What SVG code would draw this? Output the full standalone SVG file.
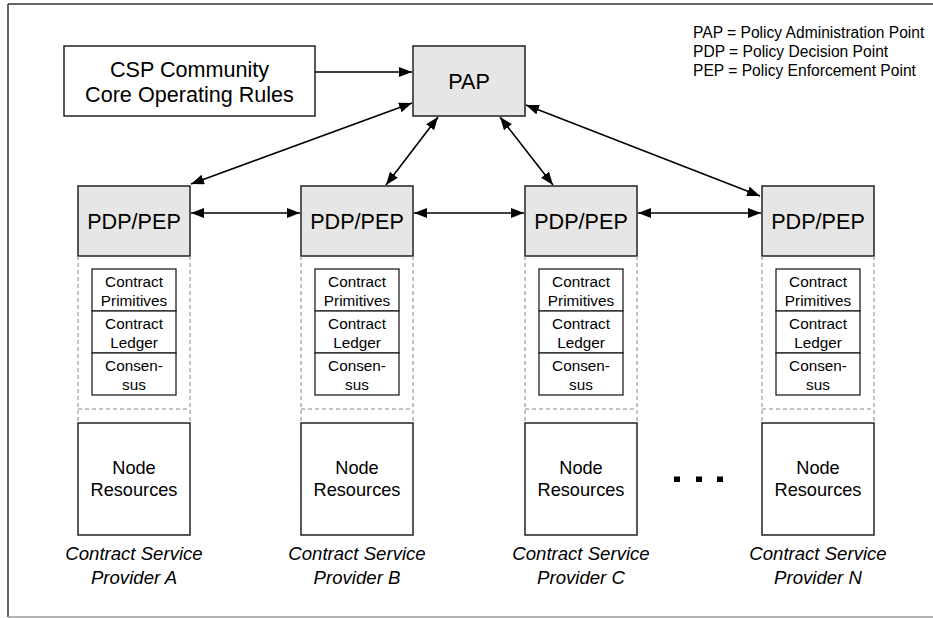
<svg xmlns="http://www.w3.org/2000/svg" width="933" height="618" viewBox="0 0 933 618">
<style>
text{font-family:"Liberation Sans",Arial,Helvetica,sans-serif;fill:#000;text-anchor:middle}
.big{font-size:21.6px}
.sm{font-size:15.3px}
.nr{font-size:18.2px}
.cap{font-size:18.6px;font-style:italic}
.leg{font-size:15.6px;text-anchor:start}
.box{fill:#fff;stroke:#222;stroke-width:1.5}
.gbox{fill:#e6e6e6;stroke:#222;stroke-width:1.5}
.cell{fill:#fff;stroke:#222;stroke-width:1.3}
.dash{fill:none;stroke:#888;stroke-width:1;stroke-dasharray:4 3}
.conn{stroke:#000;stroke-width:1.6;fill:none}
</style>
<defs>
<marker id="ah" markerUnits="userSpaceOnUse" markerWidth="14" markerHeight="11" refX="13" refY="5" orient="auto-start-reverse">
<path d="M0,0 L13,5 L0,10 z" fill="#000"/>
</marker>
<g id="stack">
<rect class="cell" x="0" y="0" width="84" height="42"/>
<rect class="cell" x="0" y="42" width="84" height="42"/>
<rect class="cell" x="0" y="84" width="84" height="42"/>
<text class="sm" x="42" y="18">Contract</text>
<text class="sm" x="42" y="37">Primitives</text>
<text class="sm" x="42" y="60">Contract</text>
<text class="sm" x="42" y="79">Ledger</text>
<text class="sm" x="42" y="102">Consen-</text>
<text class="sm" x="42" y="121">sus</text>
</g>
</defs>
<rect width="933" height="618" fill="#fff"/>
<g id="frame">
<line x1="8" y1="4" x2="933" y2="4" stroke="#333" stroke-width="1.5"/>
<line x1="8" y1="4" x2="8" y2="617" stroke="#333" stroke-width="1.5"/>
<line x1="8" y1="617" x2="933" y2="617" stroke="#999" stroke-width="1.5"/>
</g>
<g id="legend">
<text class="leg" x="693" y="38">PAP = Policy Administration Point</text>
<text class="leg" x="693" y="57">PDP = Policy Decision Point</text>
<text class="leg" x="693" y="76">PEP = Policy Enforcement Point</text>
</g>
<g id="csp">
<rect class="box" x="64" y="46" width="251" height="70"/>
<text class="big" x="189.5" y="76.5">CSP Community</text>
<text class="big" x="189.5" y="101.5">Core Operating Rules</text>
</g>
<g id="pap">
<rect class="gbox" x="413" y="46" width="112" height="70"/>
<text class="big" x="469" y="88.5">PAP</text>
</g>
<g id="csp-a">
<rect class="gbox" x="78" y="186" width="112" height="70"/>
<text class="big" x="134" y="228.5">PDP/PEP</text>
<path class="dash" d="M78,256 V423 M190,256 V423 M78,409 H190"/>
<use href="#stack" x="92" y="269"/>
<rect class="box" x="78" y="423" width="112" height="112"/>
<text class="nr" x="134" y="474">Node</text>
<text class="nr" x="134" y="496">Resources</text>
<text class="cap" x="134" y="559.5">Contract Service</text>
<text class="cap" x="134" y="583.5">Provider A</text>
</g>
<g id="csp-b">
<rect class="gbox" x="301" y="186" width="112" height="70"/>
<text class="big" x="357" y="228.5">PDP/PEP</text>
<path class="dash" d="M301,256 V423 M413,256 V423 M301,409 H413"/>
<use href="#stack" x="315" y="269"/>
<rect class="box" x="301" y="423" width="112" height="112"/>
<text class="nr" x="357" y="474">Node</text>
<text class="nr" x="357" y="496">Resources</text>
<text class="cap" x="357" y="559.5">Contract Service</text>
<text class="cap" x="357" y="583.5">Provider B</text>
</g>
<g id="csp-c">
<rect class="gbox" x="525" y="186" width="112" height="70"/>
<text class="big" x="581" y="228.5">PDP/PEP</text>
<path class="dash" d="M525,256 V423 M637,256 V423 M525,409 H637"/>
<use href="#stack" x="539" y="269"/>
<rect class="box" x="525" y="423" width="112" height="112"/>
<text class="nr" x="581" y="474">Node</text>
<text class="nr" x="581" y="496">Resources</text>
<text class="cap" x="581" y="559.5">Contract Service</text>
<text class="cap" x="581" y="583.5">Provider C</text>
</g>
<g id="csp-n">
<rect class="gbox" x="762" y="186" width="112" height="70"/>
<text class="big" x="818" y="228.5">PDP/PEP</text>
<path class="dash" d="M762,256 V423 M874,256 V423 M762,409 H874"/>
<use href="#stack" x="776" y="269"/>
<rect class="box" x="762" y="423" width="112" height="112"/>
<text class="nr" x="818" y="474">Node</text>
<text class="nr" x="818" y="496">Resources</text>
<text class="cap" x="818" y="559.5">Contract Service</text>
<text class="cap" x="818" y="583.5">Provider N</text>
</g>
<g id="ellipsis" fill="#000">
<rect x="674" y="476.5" width="6" height="5.5"/>
<rect x="696" y="476.5" width="6" height="5.5"/>
<rect x="717" y="476.5" width="6" height="5.5"/>
</g>
<g id="connectors">
<line class="conn" x1="315" y1="72" x2="412" y2="72" marker-end="url(#ah)"/>
<line class="conn" x1="412" y1="103" x2="191" y2="184" marker-start="url(#ah)" marker-end="url(#ah)"/>
<line class="conn" x1="438" y1="117" x2="386" y2="185" marker-start="url(#ah)" marker-end="url(#ah)"/>
<line class="conn" x1="500" y1="117" x2="553" y2="185" marker-start="url(#ah)" marker-end="url(#ah)"/>
<line class="conn" x1="526" y1="105" x2="760" y2="196" marker-start="url(#ah)" marker-end="url(#ah)"/>
<line class="conn" x1="191" y1="213" x2="300" y2="213" marker-start="url(#ah)" marker-end="url(#ah)"/>
<line class="conn" x1="414" y1="213" x2="524" y2="213" marker-start="url(#ah)" marker-end="url(#ah)"/>
<line class="conn" x1="638" y1="213" x2="761" y2="213" marker-start="url(#ah)" marker-end="url(#ah)"/>
</g>
</svg>
